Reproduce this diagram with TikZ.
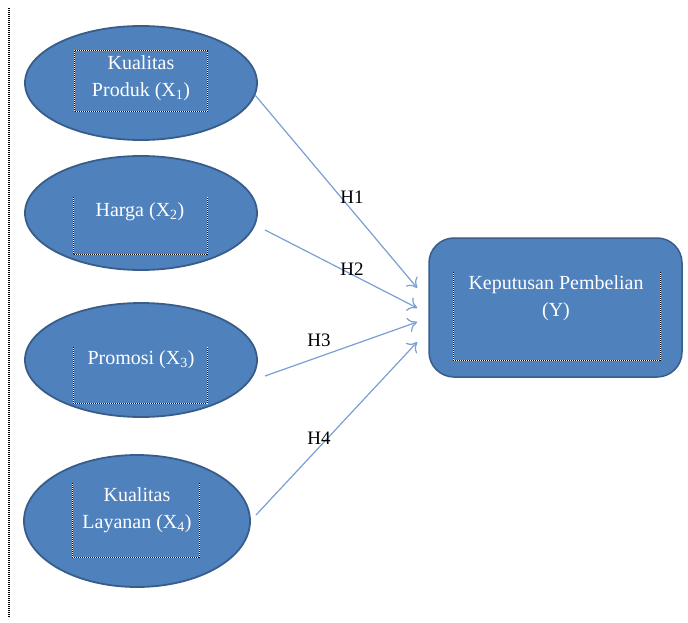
\documentclass[tikz,border=0pt]{standalone}
\usepackage{fontspec}
\setmainfont{Liberation Serif}
\usetikzlibrary{shapes.geometric, arrows, arrows.meta, positioning, calc}

\definecolor{fillblue}{HTML}{4F81BD}
\definecolor{edgeblue}{HTML}{385D8A}
\definecolor{linkblue}{HTML}{7A9FD3}

\tikzset{
  varnode/.style={ellipse, fill=fillblue, draw=edgeblue, line width=1.8pt,
    minimum width=232pt, minimum height=114pt, inner sep=0pt},
  ynode/.style={rectangle, rounded corners=25pt, fill=fillblue, draw=edgeblue,
    line width=1.5pt, minimum width=253pt, minimum height=139pt},
  vartext/.style={text=white, font=\fontsize{20}{27}\selectfont, align=center, inner sep=0pt},
  dotframe/.style={white, line width=1pt, postaction={draw=black, dash pattern=on 1pt off 1pt}},
  link/.style={->, linkblue, line width=1.2pt},
  hlabel/.style={font=\fontsize{19}{19}\selectfont, inner sep=0pt}
}

\begin{document}
\begin{tikzpicture}[x=1pt, y=-1pt, >={To[length=9pt,width=15pt]}]
\useasboundingbox (0,0) rectangle (688,623);

% Left margin line
\draw[dotframe, line width=2pt] (9,8) -- (9,617);

% Independent variables
\node[varnode] (k1) at (141,83) {};
\node[varnode] (k2) at (141,213) {};
\node[varnode] (k3) at (141,360) {};
\node[varnode, minimum width=226pt, minimum height=132pt] (k4) at (137,521) {};

% Dependent variable
\node[ynode] (y) at (555.5,307.5) {};

% Dotted text frames
\draw[dotframe] (74,51) rectangle (207,112);
\draw[dotframe] (73,197) -- (73,254) -- (207,254) -- (207,197);
\draw[dotframe] (73,347) -- (73,403) -- (207,403) -- (207,347);
\draw[dotframe] (72,483) -- (72,557) -- (199,557) -- (199,483);
\draw[dotframe] (453,272) -- (453,360) -- (660,360) -- (660,272);

% Texts
\node[vartext] (k1txt) at (141,78) {Kualitas\\Produk (X\textsubscript{1})};
\node[vartext] (k2txt) at (140,212) {Harga (X\textsubscript{2})};
\node[vartext] (k3txt) at (141,360) {Promosi (X\textsubscript{3})};
\node[vartext] (k4txt) at (137,510) {Kualitas\\Layanan (X\textsubscript{4})};
\node[vartext] (ytxt) at (556,298) {Keputusan Pembelian\\(Y)};

% Hypothesis arrows
\coordinate (t1) at (255,95);
\coordinate (t2) at (265,230);
\coordinate (t3) at (265,376);
\coordinate (t4) at (256,515);
\coordinate (h1) at ($(y.west)+(-11,-19.5)$);
\coordinate (h2) at ($(y.west)+(-11,0.5)$);
\coordinate (h3) at ($(y.west)+(-11,14.5)$);
\coordinate (h4) at ($(y.west)+(-11,34.5)$);
\foreach \i in {1,...,4} {
    \draw[link] (t\i) -- (h\i);
}

% Labels
\node[hlabel] (lab1) at (352,197) {H1};
\node[hlabel] (lab2) at (352,269) {H2};
\node[hlabel] (lab3) at (319,340) {H3};
\node[hlabel] (lab4) at (319,438) {H4};
\end{tikzpicture}
\end{document}
